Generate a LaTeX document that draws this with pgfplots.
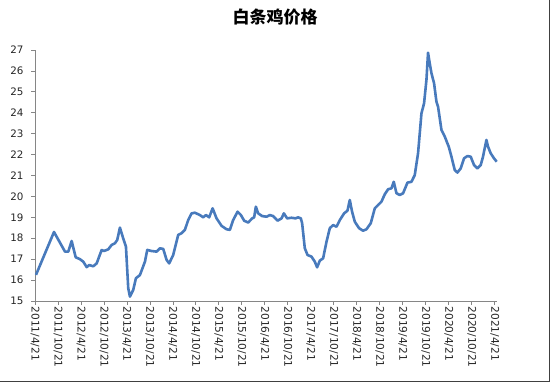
\documentclass[border=0pt]{standalone}
\usepackage{fontspec}
\setmainfont{DejaVu Sans}
\newfontfamily\cjk{Noto Sans CJK SC}
\usepackage{pgfplots}
\pgfplotsset{compat=1.18}
\definecolor{lineblue}{RGB}{72,122,188}
\definecolor{axgray}{RGB}{134,134,134}
\begin{document}
\begin{tikzpicture}
\path[use as bounding box] (0,0) rectangle (550bp,382bp);
\draw[black!75, line width=1bp] (0,0.5bp) -- (549.5bp,0.5bp) -- (549.5bp,382bp);
\begin{axis}[
  at={(35bp,81bp)}, anchor=south west,
  scale only axis, width=462bp, height=251bp,
  xmin=0, xmax=120.6, ymin=15, ymax=27,
  axis lines=left, axis line style={-, axgray, line width=0.8bp},
  tick align=outside, major tick length=4bp,
  tick style={axgray, line width=0.8bp},
  ytick={15,16,...,27},
  xtick={0,6,...,120},
  xticklabels={2011/4/21,2011/10/21,2012/4/21,2012/10/21,2013/4/21,2013/10/21,2014/4/21,2014/10/21,2015/4/21,2015/10/21,2016/4/21,2016/10/21,2017/4/21,2017/10/21,2018/4/21,2018/10/21,2019/4/21,2019/10/21,2020/4/21,2020/10/21,2021/4/21},
  /pgf/number format/assume math mode=true,
  yticklabel style={font=\fontsize{10.3bp}{12bp}\selectfont, text=black!85, xshift=-4bp},
  xticklabel style={font=\fontsize{10.6bp}{12bp}\selectfont, text=black!85, rotate=-90, anchor=west, xshift=-2bp},
  title={\cjk\bfseries 白条鸡价格},
  title style={at={(axis description cs:0.52,1)}, anchor=center, yshift=27bp, font=\fontsize{17bp}{19bp}\selectfont},
  clip=false,
]
\addplot[lineblue, line width=2.6bp, line join=round] coordinates {
(0.26,16.25)(4.96,18.3)(5.66,18.07)(7.83,17.36)(8.69,17.36)(9.57,17.87)(10.62,17.09)(11.74,17.0)(12.6,16.88)(13.49,16.62)(14.17,16.72)(15.21,16.66)(16.1,16.8)(17.4,17.44)(18.0,17.39)(19.12,17.47)(20.01,17.68)(20.87,17.76)(21.47,17.92)(22.17,18.51)(22.88,18.08)(23.74,17.6)(24.34,15.61)(24.78,15.21)(25.64,15.53)(26.35,16.09)(27.39,16.24)(28.7,16.88)(29.3,17.44)(30.44,17.39)(31.75,17.36)(32.61,17.52)(33.47,17.49)(34.36,16.96)(35.03,16.8)(36.08,17.2)(37.38,18.16)(38.27,18.24)(39.13,18.4)(39.99,18.87)(40.88,19.19)(41.74,19.22)(43.04,19.11)(43.9,19.0)(44.61,19.11)(45.47,19.0)(46.36,19.43)(47.4,18.95)(48.71,18.59)(50.01,18.43)(50.87,18.4)(51.73,18.87)(52.88,19.27)(53.74,19.11)(54.6,18.84)(55.64,18.75)(56.69,18.95)(57.21,19.0)(57.65,19.51)(58.25,19.19)(59.3,19.06)(60.44,19.03)(61.3,19.11)(62.17,19.06)(63.31,18.84)(64.36,18.95)(64.96,19.19)(65.82,18.95)(66.97,18.98)(68.01,18.95)(68.69,19.0)(69.39,18.95)(69.73,18.72)(70.43,17.52)(71.14,17.2)(72.18,17.12)(73.04,16.88)(73.64,16.61)(74.35,16.93)(75.21,17.04)(76.1,17.84)(76.96,18.48)(77.82,18.63)(78.71,18.55)(79.57,18.87)(80.69,19.19)(81.57,19.32)(82.17,19.83)(82.77,19.27)(83.48,18.79)(84.6,18.48)(85.64,18.36)(86.53,18.43)(87.65,18.72)(88.7,19.43)(89.56,19.59)(90.44,19.75)(91.3,20.1)(92.17,20.34)(93.05,20.39)(93.65,20.7)(94.36,20.15)(95.22,20.07)(96.08,20.15)(97.23,20.66)(98.27,20.7)(99.13,21.02)(99.99,22.06)(100.88,23.97)(101.56,24.45)(102.18,25.57)(102.6,26.87)(103.04,26.36)(103.49,25.89)(104.17,25.41)(104.79,24.53)(105.21,24.29)(106.1,23.18)(106.96,22.86)(108.0,22.38)(108.71,21.9)(109.57,21.26)(110.27,21.14)(111.13,21.34)(111.99,21.82)(112.88,21.93)(113.74,21.9)(114.6,21.5)(115.49,21.34)(116.35,21.5)(116.95,21.9)(117.39,22.3)(117.84,22.7)(118.25,22.38)(118.96,22.06)(119.82,21.82)(120.52,21.66)
};
\end{axis}
\end{tikzpicture}
\end{document}
